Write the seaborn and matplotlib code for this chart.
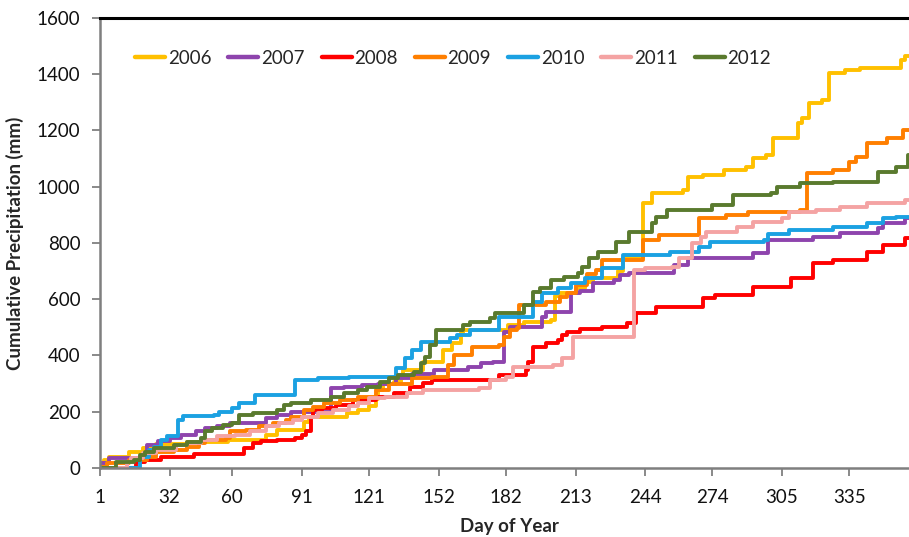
import matplotlib
matplotlib.use("Agg")
import matplotlib.pyplot as plt
import seaborn as sns
import pandas as pd

# Cumulative precipitation (mm) by day of year; each pair of lists gives the
# day a step occurs and the running total reached on that day.
days_2006 = [1, 3, 5, 14, 20, 26, 40, 58, 75, 80, 92, 94, 111, 116, 121, 124, 125, 127, 132, 135,
             136, 145, 154, 158, 162, 163, 183, 190, 202, 204, 206, 213, 217, 221, 232, 234, 243, 247, 261, 263,
             270, 279, 289, 292, 298, 301, 312, 314, 317, 323, 326, 333, 340, 358, 360, 366]
precip_2006 = [15, 28, 40, 58, 70, 85, 94, 100, 118, 136, 165, 182, 194, 206, 222, 245, 277, 300, 305, 320,
               348, 378, 420, 443, 479, 491, 509, 518, 526, 610, 621, 640, 660, 675, 700, 747, 941, 977, 989, 1036,
               1042, 1060, 1071, 1101, 1113, 1172, 1226, 1243, 1297, 1309, 1403, 1415, 1421, 1451, 1465, 1465]

days_2007 = [1, 5, 22, 27, 32, 37, 44, 48, 53, 59, 75, 80, 86, 104, 110, 118, 125, 133, 140, 150,
             165, 171, 176, 181, 184, 198, 200, 211, 215, 221, 230, 233, 237, 257, 263, 292, 299, 319, 331, 348,
             350, 360, 366]
precip_2007 = [17, 35, 82, 95, 106, 118, 130, 142, 150, 160, 177, 190, 198, 283, 289, 295, 300, 320, 335, 348,
               360, 372, 378, 485, 500, 538, 556, 621, 630, 657, 669, 686, 692, 722, 746, 763, 811, 822, 834, 852,
               872, 888, 888]

days_2008 = [1, 17, 21, 28, 43, 65, 69, 73, 80, 88, 91, 93, 95, 96, 100, 106, 114, 124, 132, 139,
             145, 149, 179, 191, 192, 194, 200, 205, 207, 209, 215, 225, 236, 240, 249, 270, 275, 292, 309, 319,
             328, 343, 350, 360, 366]
precip_2008 = [0, 23, 29, 40, 50, 70, 88, 95, 100, 108, 118, 130, 183, 206, 215, 224, 242, 254, 266, 289,
               301, 313, 331, 348, 378, 431, 443, 455, 473, 485, 495, 502, 514, 550, 574, 603, 615, 645, 675, 728,
               740, 769, 793, 817, 817]

days_2009 = [1, 4, 14, 22, 26, 34, 40, 45, 48, 57, 59, 66, 72, 78, 84, 86, 92, 96, 101, 108,
             116, 124, 130, 140, 149, 156, 159, 167, 179, 181, 184, 187, 188, 200, 206, 209, 213, 218, 222, 225,
             243, 250, 268, 280, 290, 313, 316, 328, 335, 338, 343, 352, 359, 366]
precip_2009 = [5, 17, 29, 40, 58, 64, 76, 88, 100, 106, 130, 136, 148, 160, 171, 182, 206, 218, 230, 242,
               254, 277, 300, 320, 325, 366, 402, 431, 437, 467, 491, 497, 580, 591, 609, 621, 650, 690, 704, 740,
               811, 829, 888, 900, 911, 917, 1048, 1060, 1089, 1107, 1155, 1172, 1202, 1202]

days_2010 = [1, 16, 19, 23, 25, 28, 31, 36, 38, 52, 54, 60, 63, 70, 88, 98, 112, 133, 137, 140,
             144, 157, 160, 166, 179, 194, 198, 205, 211, 217, 225, 234, 255, 268, 273, 297, 299, 308, 328, 343,
             350, 356, 366]
precip_2010 = [0, 0, 40, 64, 76, 100, 112, 171, 185, 190, 200, 213, 231, 258, 313, 319, 325, 354, 390, 420,
               449, 461, 473, 491, 538, 591, 621, 639, 657, 675, 710, 757, 769, 787, 805, 811, 832, 846, 858, 870,
               888, 894, 894]

days_2011 = [1, 13, 15, 20, 26, 35, 40, 46, 53, 61, 68, 75, 81, 87, 91, 98, 105, 112, 116, 121,
             128, 138, 145, 170, 175, 182, 185, 203, 207, 212, 239, 244, 256, 259, 265, 269, 271, 285, 292, 305,
             308, 320, 331, 343, 360, 366]
precip_2011 = [0, 23, 34, 52, 64, 82, 88, 100, 112, 118, 130, 148, 160, 171, 183, 195, 207, 219, 230, 248,
               254, 266, 277, 283, 313, 325, 360, 366, 390, 467, 704, 710, 716, 746, 799, 822, 840, 858, 876, 888,
               911, 917, 929, 941, 953, 953]

days_2012 = [1, 8, 16, 19, 21, 25, 34, 40, 46, 48, 51, 56, 60, 63, 69, 80, 83, 86, 95, 104,
             110, 116, 120, 126, 130, 134, 141, 144, 146, 148, 151, 163, 166, 175, 177, 190, 194, 197, 202, 208,
             214, 216, 219, 223, 231, 237, 247, 249, 254, 274, 283, 300, 303, 313, 328, 348, 356, 361, 366]
precip_2012 = [0, 23, 29, 46, 58, 70, 82, 94, 106, 130, 142, 153, 160, 189, 195, 206, 225, 230, 242, 254,
               266, 277, 289, 307, 319, 331, 343, 372, 396, 437, 491, 509, 520, 532, 550, 580, 627, 639, 669, 680,
               692, 716, 746, 769, 805, 840, 870, 894, 917, 935, 971, 977, 1000, 1012, 1018, 1054, 1071, 1113, 1113]

years = ["2006", "2007", "2008", "2009", "2010", "2011", "2012"]
series_days = [days_2006, days_2007, days_2008, days_2009, days_2010, days_2011, days_2012]
series_precip = [precip_2006, precip_2007, precip_2008, precip_2009, precip_2010, precip_2011, precip_2012]

x_ticks = [1, 32, 60, 91, 121, 152, 182, 213, 244, 274, 305, 335]
y_ticks = [0, 200, 400, 600, 800, 1000, 1200, 1400, 1600]

colors = {
    "2006": "#FFC000",
    "2007": "#8E44AD",
    "2008": "#FF0000",
    "2009": "#FF7F00",
    "2010": "#1BA1E2",
    "2011": "#F4A3A3",
    "2012": "#5A7A2E",
}

frames = []
for yr, d, p in zip(years, series_days, series_precip):
    frames.append(pd.DataFrame({"day": d, "precip": p, "year": yr}))
df = pd.concat(frames, ignore_index=True)

sns.set_theme(style="white")
plt.rcParams["font.family"] = ["Lato", "DejaVu Sans"]

fig = plt.figure(figsize=(9.09, 5.37), dpi=100)
ax = fig.add_axes([0.110, 0.1285, 0.9007, 0.838])

sns.lineplot(data=df, x="day", y="precip", hue="year", hue_order=years,
             palette=colors, drawstyle="steps-post", linewidth=2.8,
             estimator=None, sort=False, errorbar=None, ax=ax)

ax.set_xlim(1, 366)
ax.set_ylim(0, 1600)
ax.set_xticks(x_ticks)
ax.set_xticklabels([str(t) for t in x_ticks])
ax.set_yticks(y_ticks)
ax.set_yticklabels([str(t) for t in y_ticks])

ax.tick_params(axis="both", which="major", direction="out", length=6, width=1.3,
               color="#808080", labelsize=13.5, labelcolor="#111111")
ax.tick_params(axis="x", pad=9, bottom=True)
ax.tick_params(axis="y", pad=8, left=True)

for side in ["left", "bottom"]:
    ax.spines[side].set_color("#7f7f7f")
    ax.spines[side].set_linewidth(1.8)
ax.spines["top"].set_color("#000000")
ax.spines["top"].set_linewidth(2.2)
ax.spines["right"].set_visible(False)

ax.set_xlabel("Day of Year", fontsize=13.5, fontweight="bold", labelpad=9)
ax.set_ylabel("Cumulative Precipitation (mm)", fontsize=13.5, fontweight="bold", labelpad=9)

handles, labels = ax.get_legend_handles_labels()
for h in handles:
    h.set_linewidth(3.2)
ax.legend(handles, labels, loc="center left", bbox_to_anchor=(0.043, 0.911),
          ncol=7, frameon=False, fontsize=13.5, handlelength=1.6, handletextpad=0.15,
          columnspacing=0.9, borderpad=0, borderaxespad=0)

fig.savefig("out.png", dpi=100)
